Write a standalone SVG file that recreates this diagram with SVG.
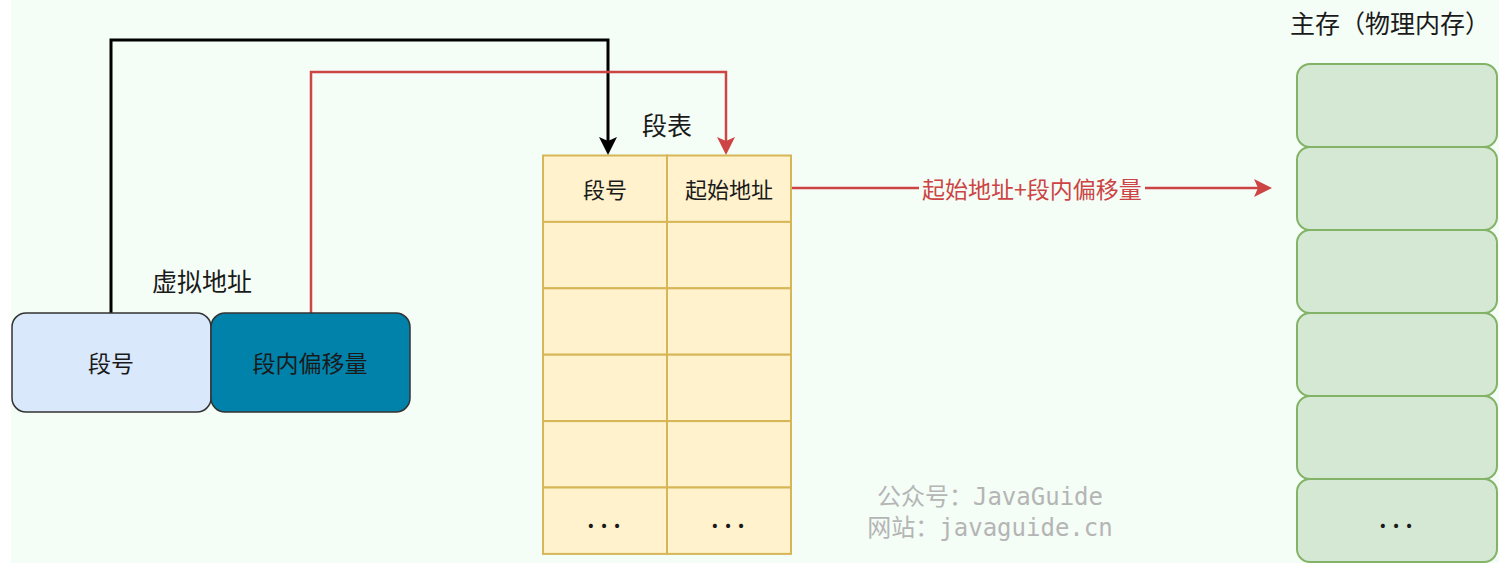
<svg xmlns="http://www.w3.org/2000/svg" width="1499" height="573" viewBox="0 0 1499 573">
<style>
.t{font-family:"Noto Sans CJK SC","Liberation Sans",sans-serif;fill:#1a1a1a;text-anchor:middle;dominant-baseline:central}
.s{font-size:22px}
.m{font-size:23px}
.h{font-size:25px}
.d{font-size:22px;font-weight:bold;letter-spacing:6px}
.cell{fill:#fff2cc;stroke:#d6b656;stroke-width:2}
.mem{fill:#d5e8d4;stroke:#82b366;stroke-width:2}
.wm{font-family:"DejaVu Sans Mono","Noto Sans CJK SC",monospace;font-size:24px;fill:#b5b5b5;text-anchor:middle;dominant-baseline:central}
</style>
<defs>
<marker id="ab" viewBox="0 0 18 18" refX="4" refY="9" markerWidth="18" markerHeight="18" markerUnits="userSpaceOnUse" orient="auto"><path d="M0,0 L18,9 L0,18 L4,9 Z" fill="#000"/></marker>
<marker id="ar" viewBox="0 0 18 18" refX="4" refY="9" markerWidth="18" markerHeight="18" markerUnits="userSpaceOnUse" orient="auto"><path d="M0,0 L18,9 L0,18 L4,9 Z" fill="#cc4444"/></marker>
</defs>
<rect x="11" y="0" width="1488" height="563" fill="#f4fdf6"/>

<g id="connectors" fill="none">
<path d="M111,313 V40 H608 V141" stroke="#000" stroke-width="3" marker-end="url(#ab)"/>
<path d="M311,313 V72 H726 V141" stroke="#cc4444" stroke-width="2.5" marker-end="url(#ar)"/>
<path d="M791,188 H1258" stroke="#cc4444" stroke-width="2.5" marker-end="url(#ar)"/>
<rect x="919" y="176" width="226" height="24" fill="#f4fdf6"/>
<text class="t m" x="1032" y="188" style="fill:#cc4444">起始地址+段内偏移量</text>
</g>

<g id="virtual-address">
<text class="t h" x="202" y="280">虚拟地址</text>
</g>
<g id="seg-no">
<rect x="12" y="313" width="199" height="99" rx="14" fill="#dae8fc" stroke="#333" stroke-width="1.5"/>
<text class="t m" x="111" y="362">段号</text>
</g>
<g id="seg-offset">
<rect x="211" y="313" width="199" height="99" rx="14" fill="#0082aa" stroke="#333" stroke-width="1.5"/>
<text class="t m" x="310" y="362">段内偏移量</text>
</g>

<g id="segment-table">
<text class="t h" x="667" y="124">段表</text>
<rect class="cell" x="543" y="155.5" width="124" height="66.4"/>
<rect class="cell" x="667" y="155.5" width="124" height="66.4"/>
<rect class="cell" x="543" y="221.9" width="124" height="66.4"/>
<rect class="cell" x="667" y="221.9" width="124" height="66.4"/>
<rect class="cell" x="543" y="288.3" width="124" height="66.4"/>
<rect class="cell" x="667" y="288.3" width="124" height="66.4"/>
<rect class="cell" x="543" y="354.7" width="124" height="66.4"/>
<rect class="cell" x="667" y="354.7" width="124" height="66.4"/>
<rect class="cell" x="543" y="421.1" width="124" height="66.4"/>
<rect class="cell" x="667" y="421.1" width="124" height="66.4"/>
<rect class="cell" x="543" y="487.5" width="124" height="66.4"/>
<rect class="cell" x="667" y="487.5" width="124" height="66.4"/>
<text class="t s" x="605" y="188">段号</text>
<text class="t s" x="729" y="188">起始地址</text>
<text class="t d" x="607" y="518">...</text>
<text class="t d" x="731" y="518">...</text>
</g>

<g id="main-memory">
<text class="t h" x="1390" y="22">主存（物理内存）</text>
<rect class="mem" x="1297" y="64" width="200" height="83" rx="13"/>
<rect class="mem" x="1297" y="147" width="200" height="83" rx="13"/>
<rect class="mem" x="1297" y="230" width="200" height="83" rx="13"/>
<rect class="mem" x="1297" y="313" width="200" height="83" rx="13"/>
<rect class="mem" x="1297" y="396" width="200" height="83" rx="13"/>
<rect class="mem" x="1297" y="479" width="200" height="83" rx="13"/>
<text class="t d" x="1399" y="518">...</text>
</g>

<g id="watermark">
<text class="wm" x="990" y="497">公众号：JavaGuide</text>
<text class="wm" x="990" y="528">网站：javaguide.cn</text>
</g>
</svg>
